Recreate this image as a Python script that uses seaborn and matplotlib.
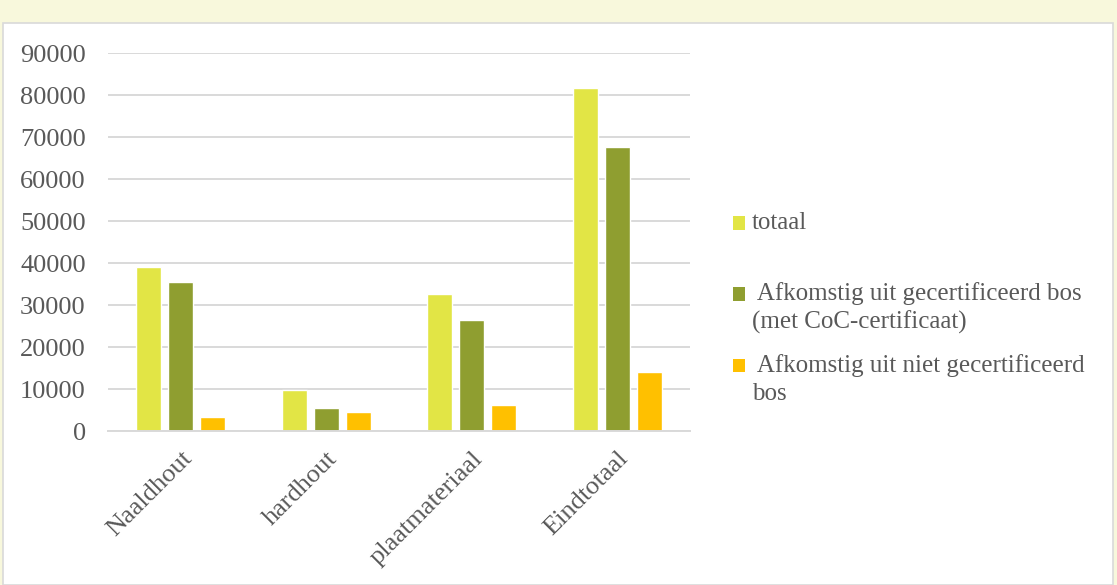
import matplotlib
matplotlib.use("Agg")
import matplotlib.pyplot as plt
import seaborn as sns
import pandas as pd
from matplotlib.patches import Rectangle, Patch

categories = ["Naaldhout", "hardhout", "plaatmateriaal", "Eindtotaal"]
series_names = ["totaal",
                " Afkomstig uit gecertificeerd bos\n(met CoC-certificaat)",
                " Afkomstig uit niet gecertificeerd\nbos"]
totaal = [39100, 9850, 32650, 81700]
gecertificeerd = [35500, 5400, 26450, 67500]
niet_gecertificeerd = [3250, 4450, 6100, 14000]
y_ticks = [0, 10000, 20000, 30000, 40000, 50000, 60000, 70000, 80000, 90000]
colors = ["#E2E545", "#8F9E30", "#FFC000"]

rows = []
for name, vals in zip(series_names, [totaal, gecertificeerd, niet_gecertificeerd]):
    for c, v in zip(categories, vals):
        rows.append({"cat": c, "series": name, "value": v})
df = pd.DataFrame(rows)

sns.set_theme(style="white")
plt.rcParams["font.family"] = ["Liberation Serif", "DejaVu Serif"]

W, H = 1117, 585
fig = plt.figure(figsize=(W / 100, H / 100), dpi=100, facecolor="#F8F8DC")
fig.patches.append(Rectangle((3 / W, 0), (1113 - 3) / W, (H - 23) / H,
                             transform=fig.transFigure, facecolor="white",
                             edgecolor="#D9D9D9", linewidth=1.2, zorder=-5))

ax = fig.add_axes([108 / W, 1 - 431 / H, (690 - 108) / W, (431 - 53) / H])
ax.set_facecolor("none")
ax.set_zorder(2)
sns.barplot(data=df, x="cat", y="value", hue="series", order=categories,
            hue_order=series_names, palette=colors, width=0.66, gap=0.22,
            saturation=1, ax=ax, legend=False)

ax.set_ylim(0, 90000)
ax.set_yticks(y_ticks)
ax.set_yticklabels([str(t) for t in y_ticks])
ax.yaxis.grid(True, color="#D9D9D9", linewidth=1.4)
ax.set_axisbelow(True)
for s in ["top", "right", "left"]:
    ax.spines[s].set_visible(False)
ax.spines["bottom"].set_color("#D9D9D9")
ax.spines["bottom"].set_linewidth(1.4)
ax.set_xlabel("")
ax.set_ylabel("")
ax.tick_params(axis="both", length=0, labelsize=19, labelcolor="#595959")
ax.tick_params(axis="y", pad=16)
for lab in ax.get_xticklabels():
    lab.set_rotation(45)
    lab.set_ha("right")
    lab.set_va("top")
    lab.set_rotation_mode("anchor")
ax.tick_params(axis="x", pad=12)

# every entry gets two lines so that entries are evenly spaced like the reference
labels = [s if "\n" in s else s + "\n" for s in series_names]
handles = [Patch(facecolor=c, edgecolor="none") for c in colors]
leg = fig.legend(handles, labels, loc="upper left",
                 bbox_to_anchor=(733 / W, 1 - 212 / H), frameon=False,
                 fontsize=18, labelcolor="#595959", handlelength=0.48,
                 handleheight=0.48, handletextpad=0.28, labelspacing=0.79,
                 borderaxespad=0, borderpad=0)
for t in leg.get_texts():
    t.set_linespacing(1.35)
# align each square with the first line of its label
for h in leg.legend_handles:
    h.set_y(h.get_y() + 9.9)

fig.savefig("out.png", dpi=100, facecolor=fig.get_facecolor())
